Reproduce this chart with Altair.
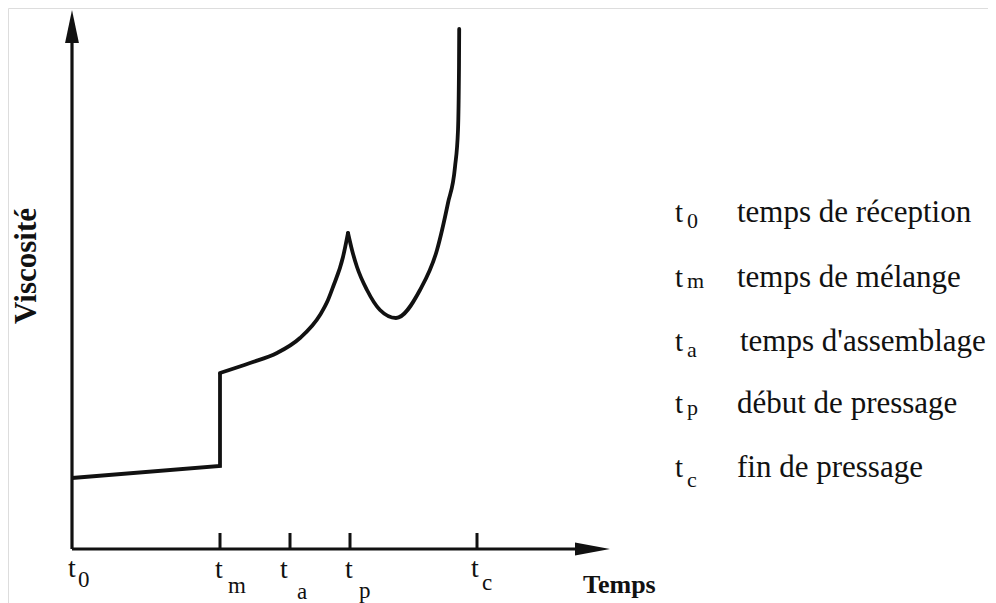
import altair as alt
import pandas as pd

# ---- data (time units / viscosity units) ----
seg1_t = [0.0, 14.8, 14.8]
seg1_v = [7.1, 8.3, 17.6]

rise_t = [14.8, 17.8, 20.5, 22.8, 24.8, 25.6, 26.1, 27.1, 27.6]
rise_v = [17.6, 18.6, 19.6, 21.1, 23.4, 24.9, 26.2, 29.2, 31.6]

fall_t = [27.6, 28.0, 28.5, 29.5, 30.8, 32.4, 34.8, 36.5, 37.6, 38.3, 38.6, 38.7, 38.72]
fall_v = [31.6, 29.9, 28.2, 25.9, 23.9, 23.1, 25.9, 29.9, 34.6, 38.2, 41.9, 48.2, 52.0]

tick_t = [14.8, 21.8, 27.8, 40.5]
tick_top = [1.6, 1.6, 1.6, 1.6]

lab_sub = ["0", "m", "a", "p", "c"]
lab_t_x = [-0.4, 14.3, 20.8, 27.3, 39.9]
lab_t_y = [-2.8, -2.9, -2.9, -2.9, -2.8]
lab_s_x = [0.6, 15.6, 22.5, 28.7, 41.0]
lab_s_y = [-3.8, -4.4, -5.0, -4.9, -4.1]

leg_sub = ["0", "m", "a", "p", "c"]
leg_text = ["temps de réception", "temps de mélange", "temps d'assemblage",
            "début de pressage", "fin de pressage"]
leg_y = [32.7, 26.2, 19.8, 13.6, 7.2]
leg_sub_y = [32.1, 26.1, 19.2, 13.4, 6.2]
leg_t_x = 60.3
leg_s_x = 61.5
leg_text_x = [66.5, 66.5, 66.8, 66.5, 66.5]

X_DOM = [-6.4, 91.6]
Y_DOM = [-5.4, 54.1]
INK = "#111111"
SERIF = "Liberation Serif"

xs = alt.Scale(domain=X_DOM, nice=False, zero=False)
ys = alt.Scale(domain=Y_DOM, nice=False, zero=False)


def X(f="t"):
    return alt.X(f"{f}:Q", scale=xs, axis=None)


def Y(f="v"):
    return alt.Y(f"{f}:Q", scale=ys, axis=None)


seg1 = pd.DataFrame({"t": seg1_t, "v": seg1_v, "o": range(len(seg1_t))})
curve = pd.DataFrame({
    "t": rise_t + fall_t,
    "v": rise_v + fall_v,
    "seg": ["rise"] * len(rise_t) + ["fall"] * len(fall_t),
    "o": list(range(len(rise_t))) + list(range(len(fall_t))),
})

axes_df = pd.DataFrame({"t": [0.0, 0.0], "v": [0.0, 0.0], "t2": [0.0, 50.6], "v2": [50.8, 0.0]})
ticks_df = pd.DataFrame({"t": tick_t, "v": [0.0] * 4, "v2": tick_top})
arrow_y = pd.DataFrame({"t": [0.0], "v": [52.25]})
arrow_x = pd.DataFrame({"t": [52.05], "v": [0.0]})

lab_t = pd.DataFrame({"t": lab_t_x, "v": lab_t_y, "s": ["t"] * 5})
lab_s = pd.DataFrame({"t": lab_s_x, "v": lab_s_y, "s": lab_sub})
leg_t = pd.DataFrame({"t": [leg_t_x] * 5, "v": leg_y, "s": ["t"] * 5})
leg_s = pd.DataFrame({"t": [leg_s_x] * 5, "v": leg_sub_y, "s": leg_sub})
leg_d = pd.DataFrame({"t": leg_text_x, "v": leg_y, "s": leg_text})
temps = pd.DataFrame({"t": [51.1], "v": [-4.4], "s": ["Temps"]})
visc = pd.DataFrame({"t": [-3.6], "v": [28.3], "s": ["Viscosité"]})

layers = []

layers.append(alt.Chart(axes_df).mark_rule(color=INK, strokeWidth=3.2).encode(
    x=X(), y=Y(), x2="t2:Q", y2="v2:Q"))
layers.append(alt.Chart(ticks_df).mark_rule(color=INK, strokeWidth=3).encode(
    x=X(), y=Y(), y2="v2:Q"))
layers.append(alt.Chart(arrow_y).mark_point(
    shape="M0,-1L0.42,1L-0.42,1Z", size=1089, filled=True, color=INK, opacity=1,
    strokeWidth=0).encode(x=X(), y=Y()))
layers.append(alt.Chart(arrow_x).mark_point(
    shape="M1,0L-1,-0.37L-1,0.37Z", size=1225, filled=True, color=INK, opacity=1,
    strokeWidth=0).encode(x=X(), y=Y()))

layers.append(alt.Chart(seg1).mark_line(
    color=INK, strokeWidth=3.8, strokeJoin="miter", interpolate="linear").encode(
    x=X(), y=Y(), order="o:Q"))
layers.append(alt.Chart(curve).mark_line(
    color=INK, strokeWidth=3.8, strokeCap="round", interpolate="monotone").encode(
    x=X(), y=Y(), detail="seg:N", order="o:Q"))


def txt(df, size, bold=False, **kw):
    return alt.Chart(df).mark_text(
        font=SERIF, fontSize=size, fontWeight="bold" if bold else "normal",
        color=INK, baseline="alphabetic", **kw).encode(x=X(), y=Y(), text="s:N")


layers.append(txt(lab_t, 28, align="left"))
layers.append(txt(lab_s, 23, align="left"))
layers.append(txt(leg_t, 29, align="left"))
layers.append(txt(leg_s, 22, align="left"))
layers.append(txt(leg_d, 31, align="left"))
layers.append(txt(temps, 26, bold=True, align="left"))
layers.append(txt(visc, 31, bold=True, align="center", angle=270))

chart = alt.layer(*layers).properties(
    width=980, height=595, autosize=alt.AutoSizeParams(type="none"),
    padding=0,
).configure_view(strokeWidth=0).configure(background="white")

chart.save("out.html", embed_options={"renderer": "svg", "actions": False})
